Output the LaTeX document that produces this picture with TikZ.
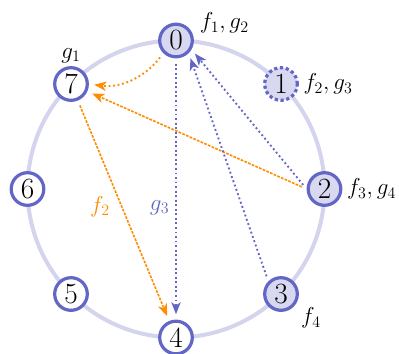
\documentclass[tikz,border=0pt]{standalone}
\usepackage{xcolor}
\usepackage{tikz}
\usetikzlibrary{arrows.meta, positioning, calc}
\definecolor{ringlav}{RGB}{212, 212, 238}
\definecolor{nodeblue}{RGB}{98, 102, 196}
\definecolor{nodefill}{RGB}{216, 216, 240}
\definecolor{arcorange}{RGB}{255, 140, 0}

\begin{document}
\begin{tikzpicture}[
    vtx/.style={circle, draw=nodeblue, fill=white, line width=2.4pt, minimum size=0.86cm, inner sep=0pt, font=\fontsize{22}{26}\selectfont},
    vtxon/.style={vtx, fill=nodefill},
    every label/.style={font=\fontsize{18}{22}\selectfont, text=black},
    farc/.style={arcorange, line width=1.2pt, dash pattern=on 2pt off 1pt, -{Stealth[length=9pt, width=7pt, inset=2.5pt]}, shorten >=4pt, shorten <=4pt},
    fdot/.style={farc, line width=1.4pt, dotted},
    garc/.style={nodeblue, line width=1.4pt, dotted, -{Stealth[length=9pt, width=7pt, inset=2.5pt]}, shorten >=4pt, shorten <=4pt}
  ]
  \useasboundingbox (-4.639, -4.323) rectangle (5.878, 4.982);

  % ring
  \draw[ringlav, line width=3pt] (0,0) circle (3.914);

  % nodes on the ring
  \node[vtxon, label={[label distance=1pt]8:$f_1,g_2$}] (n0) at (90:3.914) {0};
  \node[vtxon, dotted, label=right:{$f_2,g_3$}] (n1) at (45:3.914) {1};
  \node[vtxon, label=right:{$f_3,g_4$}] (n2) at (0:3.914) {2};
  \node[vtxon, label=-30:{$f_4$}] (n3) at (-45:3.914) {3};
  \node[vtx] (n4) at (-90:3.914) {4};
  \node[vtx] (n5) at (-135:3.914) {5};
  \node[vtx] (n6) at (180:3.914) {6};
  \node[vtx, label={[label distance=-1pt]above:$g_1$}] (n7) at (135:3.914) {7};

  % f arcs
  \draw[fdot] (n0.south west) to[bend left=30] (n7.east);
  \draw[farc] (n2.west) -- (n7);
  \draw[farc] (n7) -- node[pos=0.48, left=5pt, text=arcorange, font=\fontsize{18}{22}\selectfont] (flbl) {$f_2$} (n4);

  % g arcs
  \draw[garc] (n0) -- node[pos=0.57, left=1pt, text=nodeblue, font=\fontsize{18}{22}\selectfont] (glbl) {$g_3$} (n4);
  \draw[garc] (n2.west) -- (n0.-30);
  \draw[garc] (n3.north west) -- (n0.south east);
\end{tikzpicture}
\end{document}
